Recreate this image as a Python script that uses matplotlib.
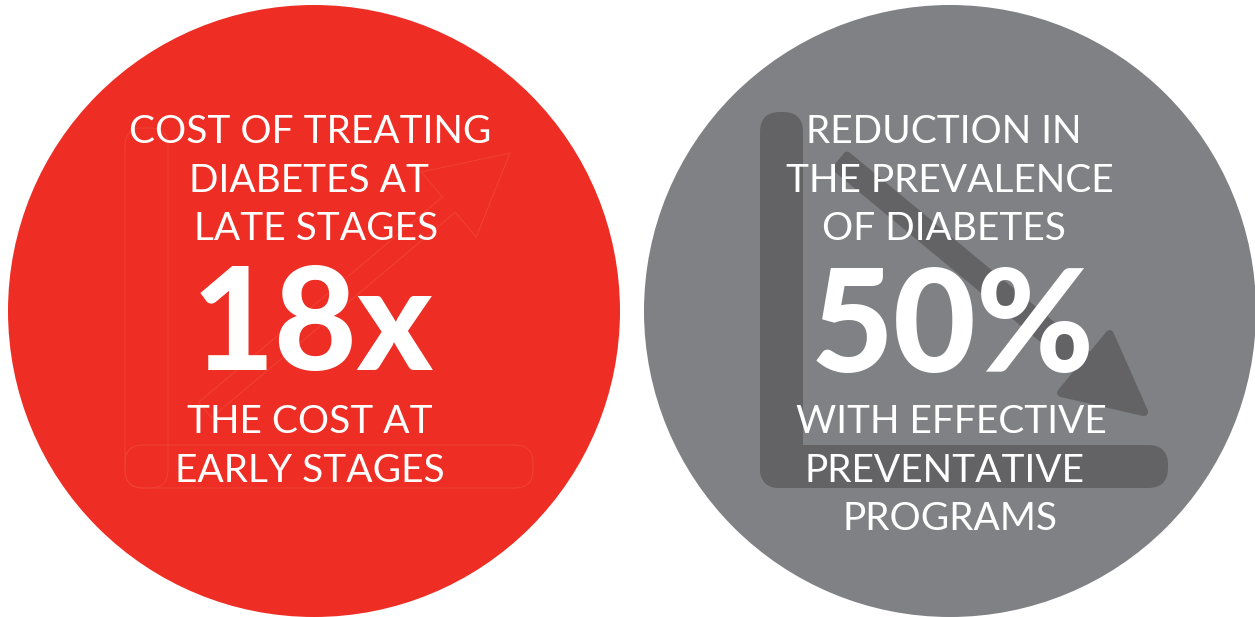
import numpy as np
import matplotlib
matplotlib.use("Agg")
import matplotlib.pyplot as plt
from matplotlib.patches import Circle, FancyBboxPatch, Polygon

# ---- data ----
stat_values = ["18x", "50%"]
top_lines = [["COST OF TREATING", "DIABETES AT", "LATE STAGES"],
             ["REDUCTION IN", "THE PREVALENCE", "OF DIABETES"]]
bottom_lines = [["THE COST AT", "EARLY STAGES"],
                ["WITH EFFECTIVE", "PREVENTATIVE", "PROGRAMS"]]
circle_colors = ["#EE2E24", "#808184"]

W, H = 1255, 617
fig = plt.figure(figsize=(W / 100, H / 100), dpi=100)
ax = fig.add_axes([0, 0, 1, 1])
ax.set_xlim(0, W)
ax.set_ylim(H, 0)
ax.axis("off")

def arrow_poly(start, tip, shaft_w, head_w, head_len):
    s = np.array(start, float); t = np.array(tip, float)
    d = t - s; L = np.linalg.norm(d); u = d / L; n = np.array([-u[1], u[0]])
    b = t - u * head_len
    pts = [s + n * shaft_w / 2, b + n * shaft_w / 2, b + n * head_w / 2, t,
           b - n * head_w / 2, b - n * shaft_w / 2, s - n * shaft_w / 2]
    return np.array(pts)

# circles
centers = [(314, 311), (950, 311)]
R = 306
for c, col in zip(centers, circle_colors):
    ax.add_patch(Circle(c, R, color=col, lw=0, zorder=1))

# red faint outline graphic
oc = "#F0443A"
ax.add_patch(FancyBboxPatch((125, 128), 43, 360, boxstyle="round,pad=0,rounding_size=18",
                            fill=False, ec=oc, lw=0.6, zorder=2))
ax.add_patch(FancyBboxPatch((125, 445), 408, 43, boxstyle="round,pad=0,rounding_size=18",
                            fill=False, ec=oc, lw=0.6, zorder=2))
ax.add_patch(Polygon(arrow_poly((205, 410), (510, 153), 20, 85, 80), closed=True,
                     fill=False, ec=oc, lw=0.6, joinstyle="round", zorder=2))

# gray dark graphic
dc = "#636366"
ax.add_patch(FancyBboxPatch((760, 112), 43, 376, boxstyle="round,pad=0,rounding_size=20",
                            fc=dc, ec="none", zorder=2))
ax.add_patch(FancyBboxPatch((760, 445), 408, 43, boxstyle="round,pad=0,rounding_size=20",
                            fc=dc, ec="none", zorder=2))
ax.add_patch(Polygon(arrow_poly((842, 162), (1144, 412), 16, 76, 76), closed=True,
                     fc=dc, ec=dc, lw=6, joinstyle="round", capstyle="round", zorder=2))

fam = ["Lato", "DejaVu Sans"]
small_fs = 28
big_fs = 103
small_w = "normal"

# red texts
red_top_y = [143, 192, 240]
red_top_x = [310, 309, 316]
for s, x, y in zip(top_lines[0], red_top_x, red_top_y):
    ax.text(x, y, s, color="white", fontsize=small_fs, family=fam, weight=small_w,
            ha="center", va="baseline", zorder=5)
ax.text(313, 370, stat_values[0], color="white", fontsize=big_fs, family=fam, weight="black",
        ha="center", va="baseline", zorder=5)
for s, x, y in zip(bottom_lines[0], [310, 310], [433, 482]):
    ax.text(x, y, s, color="white", fontsize=small_fs, family=fam, weight=small_w,
            ha="center", va="baseline", zorder=5)

# gray texts
for s, x, y in zip(top_lines[1], [944, 950, 944], red_top_y):
    ax.text(x, y, s, color="white", fontsize=small_fs, family=fam, weight=small_w,
            ha="center", va="baseline", zorder=5)
ax.text(953, 372, stat_values[1], color="white", fontsize=big_fs, family=fam, weight="black",
        ha="center", va="baseline", zorder=5)
for s, x, y in zip(bottom_lines[1], [951, 944, 950], [433, 482, 530]):
    ax.text(x, y, s, color="white", fontsize=small_fs, family=fam, weight=small_w,
            ha="center", va="baseline", zorder=5)

fig.savefig("out.png", dpi=100, facecolor="white")
